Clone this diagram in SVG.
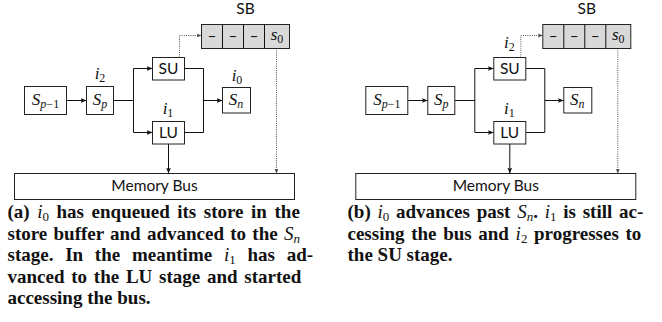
<svg xmlns="http://www.w3.org/2000/svg" width="662" height="322" viewBox="0 0 662 322">
<defs>
<marker id="ah" viewBox="0 0 6 6" refX="6" refY="3" markerWidth="6" markerHeight="6" markerUnits="userSpaceOnUse" orient="auto">
<path d="M0,0.6 L6,3 L0,5.4 L1.4,3 Z" fill="#111"/>
</marker>
<marker id="ahg" viewBox="0 0 6 6" refX="6" refY="3" markerWidth="5" markerHeight="5" markerUnits="userSpaceOnUse" orient="auto">
<path d="M0,0.6 L6,3 L0,5.4 L1.4,3 Z" fill="#444"/>
</marker>
</defs>
<style>
.box{fill:#fff;stroke:#222;stroke-width:1}
.sb{fill:#d9d9d9;stroke:#222;stroke-width:1}
.ln{fill:none;stroke:#111;stroke-width:1}
.arr{fill:none;stroke:#111;stroke-width:1;marker-end:url(#ah)}
.dot{fill:none;stroke:#555;stroke-width:1;stroke-dasharray:1 1.2;marker-end:url(#ahg)}
.sans{font-family:Lato,"DejaVu Sans",sans-serif;font-size:15.5px;fill:#111;text-anchor:middle}
.math{font-family:"Liberation Serif",serif;font-style:italic;font-size:17px;fill:#111;text-anchor:middle}
.sub{font-size:12px;font-style:normal}
.subi{font-size:12px}
.cap{font-family:"Liberation Serif",serif;font-weight:bold;font-size:19px;fill:#111}
.ci{font-style:italic;font-weight:normal}
.cs{font-size:13px;font-weight:normal}
</style>

<!-- LEFT PANEL -->
<g id="a-connectors">
<path class="arr" d="M66.5,100.5 H86.5"/>
<path class="ln" d="M113.5,100.5 H133.5 M133.5,68.5 V132.5"/>
<path class="arr" d="M133.5,68.5 H152.5"/>
<path class="arr" d="M133.5,132.5 H152.5"/>
<path class="ln" d="M184.5,68.5 H203.5 V132.5 H184.5"/>
<path class="arr" d="M203.5,100.5 H222.5"/>
<path class="arr" d="M168.5,144 V173.5"/>
<path class="dot" d="M179.5,57.5 V35.5 H201.5"/>
<path class="dot" d="M276.5,48 V173.5"/>
</g>
<g id="a-Sp1">
<rect class="box" x="24.5" y="86.5" width="42" height="28"/>
<text class="math" x="45.5" y="105"><tspan>S</tspan><tspan class="subi" dy="3">p</tspan><tspan class="sub">−1</tspan></text>
</g>
<g id="a-Sp">
<rect class="box" x="86.5" y="86.5" width="27" height="28"/>
<text class="math" x="100" y="105"><tspan>S</tspan><tspan class="subi" dy="3">p</tspan></text>
</g>
<g id="a-SU">
<rect class="box" x="152.5" y="57.5" width="32" height="22.5"/>
<text class="sans" x="168.5" y="74">SU</text>
</g>
<g id="a-LU">
<rect class="box" x="152.5" y="121.5" width="32" height="22.5"/>
<text class="sans" x="168.5" y="138">LU</text>
</g>
<g id="a-Sn">
<rect class="box" x="222.5" y="87.5" width="28" height="25.5"/>
<text class="math" x="236" y="105"><tspan>S</tspan><tspan class="subi" dy="3">n</tspan></text>
</g>
<g id="a-SB">
<text class="sans" x="245.5" y="14">SB</text>
<rect class="sb" x="201.5" y="24.5" width="88" height="24"/>
<path class="ln" d="M222.5,24.5 V48.5 M243.5,24.5 V48.5 M264.5,24.5 V48.5"/>
<text class="sans" x="212" y="41">–</text>
<text class="sans" x="233" y="41">–</text>
<text class="sans" x="254" y="41">–</text>
<text class="math" x="277" y="40"><tspan>s</tspan><tspan class="sub" dy="3">0</tspan></text>
</g>
<g id="a-bus">
<rect class="box" x="14.5" y="173.5" width="280" height="26"/>
<text class="sans" x="154.5" y="191">Memory Bus</text>
</g>
<g id="a-labels">
<text class="math" x="100" y="79"><tspan>i</tspan><tspan class="sub" dy="3">2</tspan></text>
<text class="math" x="168" y="114"><tspan>i</tspan><tspan class="sub" dy="3">1</tspan></text>
<text class="math" x="237" y="81"><tspan>i</tspan><tspan class="sub" dy="3">0</tspan></text>
</g>

<!-- RIGHT PANEL -->
<g transform="translate(341.3,0)">
<g id="b-connectors">
<path class="arr" d="M66.5,100.5 H86.5"/>
<path class="ln" d="M113.5,100.5 H133.5 M133.5,68.5 V132.5"/>
<path class="arr" d="M133.5,68.5 H152.5"/>
<path class="arr" d="M133.5,132.5 H152.5"/>
<path class="ln" d="M184.5,68.5 H203.5 V132.5 H184.5"/>
<path class="arr" d="M203.5,100.5 H222.5"/>
<path class="arr" d="M168.5,144 V173.5"/>
<path class="dot" d="M179.5,57.5 V35.5 H201.5"/>
<path class="dot" d="M276.5,48 V173.5"/>
</g>
<g id="b-Sp1">
<rect class="box" x="24.5" y="86.5" width="42" height="28"/>
<text class="math" x="45.5" y="105"><tspan>S</tspan><tspan class="subi" dy="3">p</tspan><tspan class="sub">−1</tspan></text>
</g>
<g id="b-Sp">
<rect class="box" x="86.5" y="86.5" width="27" height="28"/>
<text class="math" x="100" y="105"><tspan>S</tspan><tspan class="subi" dy="3">p</tspan></text>
</g>
<g id="b-SU">
<rect class="box" x="152.5" y="57.5" width="32" height="22.5"/>
<text class="sans" x="168.5" y="74">SU</text>
</g>
<g id="b-LU">
<rect class="box" x="152.5" y="121.5" width="32" height="22.5"/>
<text class="sans" x="168.5" y="138">LU</text>
</g>
<g id="b-Sn">
<rect class="box" x="222.5" y="87.5" width="28" height="25.5"/>
<text class="math" x="236" y="105"><tspan>S</tspan><tspan class="subi" dy="3">n</tspan></text>
</g>
<g id="b-SB">
<text class="sans" x="245.5" y="14">SB</text>
<rect class="sb" x="201.5" y="24.5" width="88" height="24"/>
<path class="ln" d="M222.5,24.5 V48.5 M243.5,24.5 V48.5 M264.5,24.5 V48.5"/>
<text class="sans" x="212" y="41">–</text>
<text class="sans" x="233" y="41">–</text>
<text class="sans" x="254" y="41">–</text>
<text class="math" x="277" y="40"><tspan>s</tspan><tspan class="sub" dy="3">0</tspan></text>
</g>
<g id="b-bus">
<rect class="box" x="14.5" y="173.5" width="280" height="26"/>
<text class="sans" x="154.5" y="191">Memory Bus</text>
</g>
<g id="b-labels">
<text class="math" x="168" y="48"><tspan>i</tspan><tspan class="sub" dy="3">2</tspan></text>
<text class="math" x="168" y="114"><tspan>i</tspan><tspan class="sub" dy="3">1</tspan></text>
</g>
</g>

<!-- CAPTIONS -->
<g id="caption-a">
<text class="cap" x="7.5" y="218" word-spacing="2.8">(a) <tspan class="ci">i</tspan><tspan class="cs" dy="3">0</tspan><tspan dy="-3"> has enqueued its store in the</tspan></text>
<text class="cap" x="7.5" y="239.5" word-spacing="1.5">store buffer and advanced to the <tspan class="ci">S</tspan><tspan class="cs ci" dy="3">n</tspan></text>
<text class="cap" x="7.5" y="261" word-spacing="7">stage. In the meantime <tspan class="ci">i</tspan><tspan class="cs" dy="3">1</tspan><tspan dy="-3"> has ad-</tspan></text>
<text class="cap" x="7.5" y="282.5" word-spacing="2">vanced to the LU stage and started</text>
<text class="cap" x="7.5" y="304">accessing the bus.</text>
</g>
<g id="caption-b">
<text class="cap" x="347.5" y="218" word-spacing="2">(b) <tspan class="ci">i</tspan><tspan class="cs" dy="3">0</tspan><tspan dy="-3"> advances past </tspan><tspan class="ci">S</tspan><tspan class="cs ci" dy="3">n</tspan><tspan dy="-3">. </tspan><tspan class="ci">i</tspan><tspan class="cs" dy="3">1</tspan><tspan dy="-3"> is still ac-</tspan></text>
<text class="cap" x="347.5" y="239.5" word-spacing="1.9">cessing the bus and <tspan class="ci">i</tspan><tspan class="cs" dy="3">2</tspan><tspan dy="-3"> progresses to</tspan></text>
<text class="cap" x="347.5" y="261">the SU stage.</text>
</g>
</svg>
